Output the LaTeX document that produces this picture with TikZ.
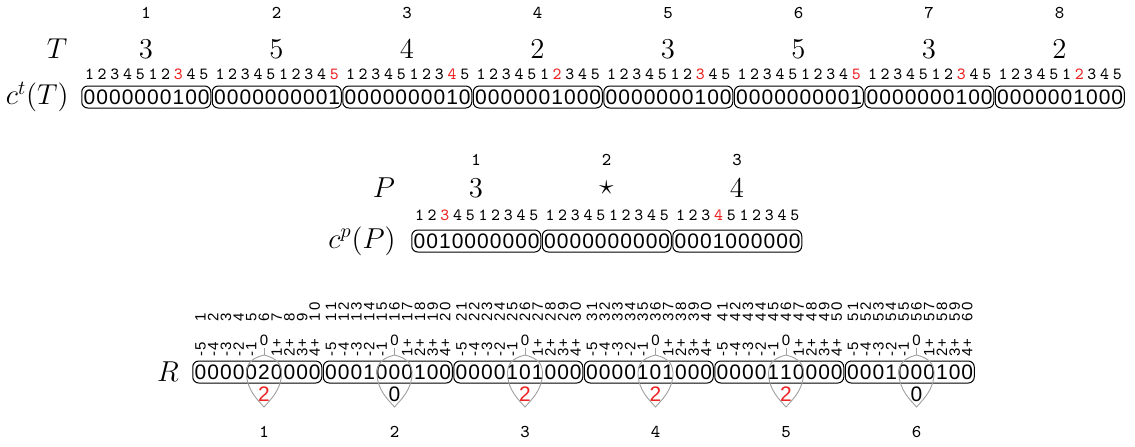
\documentclass[tikz,border=0pt]{standalone}
\usepackage{amsmath}
\usepackage{fontspec}
\newfontfamily\bitfont{Liberation Sans}
\usetikzlibrary{calc}
\definecolor{hitred}{RGB}{235,35,35}
\tikzset{
    idxnum/.style={font=\ttfamily\fontsize{9}{10}\selectfont, inner sep=0pt},
    posnum/.style={font=\ttfamily\fontsize{8.5}{10}\selectfont, inner sep=0pt},
    bitnum/.style={font=\bitfont\fontsize{10.5}{12}\selectfont, inner sep=0pt},
    symnum/.style={font=\fontsize{14.4}{17}\selectfont, inner sep=0pt},
    blockbox/.style={draw, rounded corners=3pt, line width=0.5pt, minimum width=64.5pt, minimum height=11pt, inner sep=0pt},
    offnum/.style={font=\bitfont\fontsize{7.5}{8}\selectfont, inner sep=0pt, rotate=90, anchor=west},
    zeronum/.style={font=\bitfont\fontsize{7.5}{8}\selectfont, inner sep=1pt},
    window/.style={draw=gray!75, line width=0.45pt}
}

\begin{document}
\begin{tikzpicture}[x=0.5pt, y=-0.5pt]
    \useasboundingbox (0,0) rectangle (1135,446);

    % Text T and its code
    \node[symnum] (T) at (57,49) {$T$};
    \node[symnum, anchor=east] (cT) at (69,97) {$c^t(T)$};
    \foreach \val [count=\blk] in {3,5,4,2,3,5,3,2} {
        \pgfmathsetmacro\bl{81+130.5*(\blk-1)}
        \node[idxnum] (ti\blk) at (\bl+65,13) {\blk};
        \node[symnum] (tv\blk) at (\bl+65,49) {$\val$};
        \node[blockbox] (tb\blk) at (\bl+65.25,97) {};
        \foreach \j in {1,...,10} {
            \pgfmathtruncatemacro\lab{mod(\j-1,5)+1}
            \pgfmathtruncatemacro\hit{\j==5+\val}
            \ifnum\hit=1 \def\col{hitred}\else\def\col{black}\fi
            \node[posnum, text=\col] (tp\blk-\j) at (\bl+8.5+12.7*\j-12.7,74) {\lab};
            \node[bitnum] (td\blk-\j) at (\bl+8.5+12.7*\j-12.7,97) {\hit};
        }
    }

    % Pattern P and its code
    \node[symnum] (P) at (384,188) {$P$};
    \node[symnum, anchor=east] (cP) at (396,241) {$c^p(P)$};
    \foreach \val/\sym [count=\blk] in {3/3, 0/\star, 4/4} {
        \pgfmathsetmacro\bl{411+130.5*(\blk-1)}
        \node[idxnum] (pi\blk) at (\bl+65,160) {\blk};
        \node[symnum] (pv\blk) at (\bl+65,188) {$\sym$};
        \node[blockbox] (pb\blk) at (\bl+65.25,241) {};
        \foreach \j in {1,...,10} {
            \pgfmathtruncatemacro\lab{mod(\j-1,5)+1}
            \pgfmathtruncatemacro\hit{\j==\val}
            \ifnum\hit=1 \def\col{hitred}\else\def\col{black}\fi
            \node[posnum, text=\col] (pp\blk-\j) at (\bl+8.5+12.7*\j-12.7,215) {\lab};
            \node[bitnum] (pd\blk-\j) at (\bl+8.5+12.7*\j-12.7,241) {\hit};
        }
    }

    % Result R with offset windows
    \node[symnum] (R) at (168,372) {$R$};
    \foreach \bits/\cnt/\col [count=\blk] in {
        {0,0,0,0,0,2,0,0,0,0}/2/hitred,
        {0,0,0,1,0,0,0,1,0,0}/0/black,
        {0,0,0,0,1,0,1,0,0,0}/2/hitred,
        {0,0,0,0,1,0,1,0,0,0}/2/hitred,
        {0,0,0,0,1,1,0,0,0,0}/2/hitred,
        {0,0,0,1,0,0,0,1,0,0}/0/black} {
        \pgfmathsetmacro\bl{192+130.5*(\blk-1)}
        \pgfmathsetmacro\cx{\bl+72}
        \node[blockbox] (rb\blk) at (\bl+65.25,372) {};
        \foreach \b [count=\j] in \bits {
            \pgfmathsetmacro\xx{\bl+8.5+12.7*\j-12.7}
            \pgfmathtruncatemacro\pos{10*(\blk-1)+\j}
            \pgfmathtruncatemacro\tens{\pos/10}
            \pgfmathtruncatemacro\unit{mod(\pos,10)}
            \pgfmathtruncatemacro\off{\j-6}
            \pgfmathtruncatemacro\aoff{abs(\j-6)}
            \node[bitnum] (rd\blk-\j) at (\xx,372) {\b};
            \node[offnum] (rn\blk-\j) at (\xx,322) {\ifnum\pos<10 \pos\else\tens\kern1.2pt\unit\fi};
            \ifnum\off<0 \node[offnum] (ro\blk-\j) at (\xx,357) {-\kern0.6pt\aoff};\fi
            \ifnum\off>0 \node[offnum] (ro\blk-\j) at (\xx,357) {\aoff\kern0.6pt+};\fi
        }
        % window round offsets -1..+1
        \node[zeronum] (rz\blk) at (\cx,340) {0};
        \coordinate (rt\blk) at (\cx,355);
        \draw[window] (rt\blk) -- (rz\blk.south);
        \draw[window] (\cx,355) .. controls (\cx-7,357) and (\cx-17.5,360) .. (\cx-17.5,373)
            .. controls (\cx-17.5,390) and (\cx-6,400) .. (\cx,407)
            .. controls (\cx+6,400) and (\cx+17.5,390) .. (\cx+17.5,373)
            .. controls (\cx+17.5,360) and (\cx+7,357) .. (\cx,355);
        \node[bitnum, text=\col] (rc\blk) at (\cx,394) {\cnt};
        \node[idxnum] (ri\blk) at (\cx,432) {\blk};
    }
\end{tikzpicture}
\end{document}
